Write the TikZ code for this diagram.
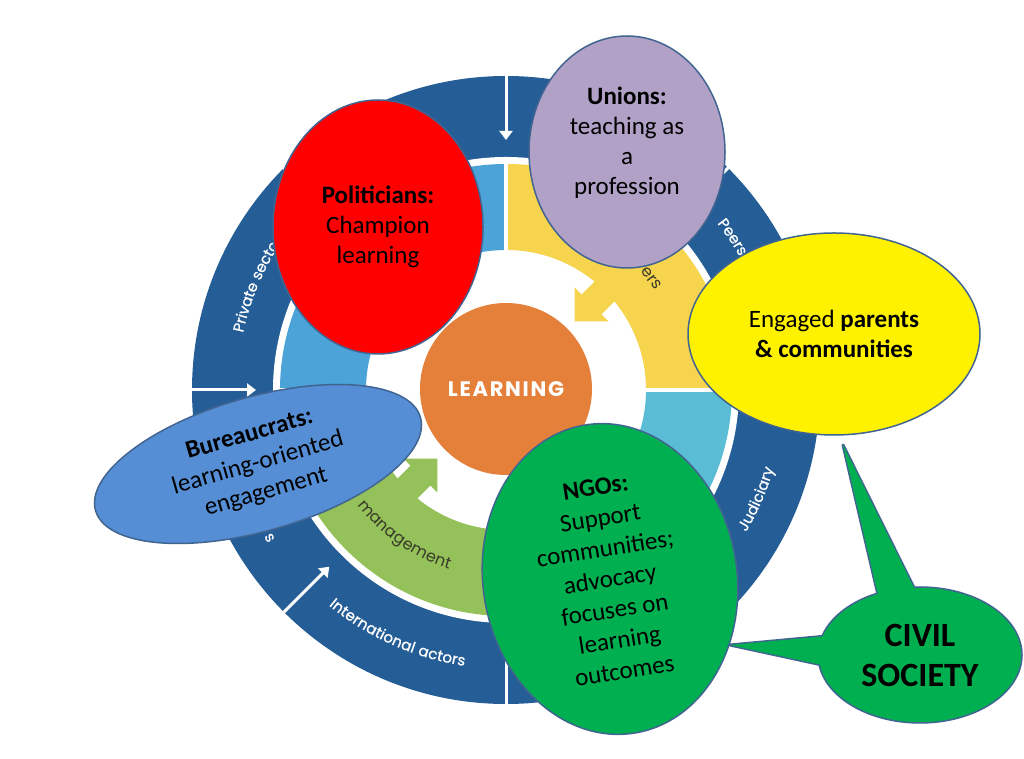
\documentclass[tikz,border=0pt]{standalone}
\usepackage{fontspec}
\setmainfont{Carlito}
\newfontfamily\ringfont[FakeBold=0.8,LetterSpace=3]{Poppins}
\newfontfamily\spacedfont[LetterSpace=10]{Poppins}
\newfontfamily\learnfont[LetterSpace=8]{Poppins}
\usetikzlibrary{shapes.geometric,decorations.text,arrows.meta,positioning}

\definecolor{ringblue}{RGB}{37,94,151}
\definecolor{segblue}{RGB}{75,163,216}
\definecolor{segyellow}{RGB}{246,212,78}
\definecolor{segcyan}{RGB}{91,188,214}
\definecolor{seggreen}{RGB}{148,193,90}
\definecolor{learnorange}{RGB}{229,128,58}
\definecolor{edgeblue}{RGB}{65,100,145}
\definecolor{unionlilac}{RGB}{177,161,199}
\definecolor{bureaublue}{RGB}{85,142,213}
\definecolor{ngogreen}{RGB}{0,176,80}
\definecolor{labeldark}{RGB}{55,58,40}

\begin{document}
\begin{tikzpicture}[x=1pt,y=1pt,
  bubble node/.style={ellipse,draw=edgeblue,line width=1.5pt,inner sep=0pt,align=center,font=\fontsize{25}{30}\selectfont},
  ring arrow/.style={white,line width=3pt,-{Triangle[width=13pt,length=9pt]}},
  ring label/.style={decorate,decoration={text along path,text align=center,raise=-5pt,
    text={|\ringfont\fontsize{15}{15}\selectfont\color{white}|#1}}},
  inner label/.style={decorate,decoration={text along path,text align=center,raise=-4pt,
    text={|\spacedfont\fontsize{16}{16}\selectfont\color{labeldark}|#1}}}]

\useasboundingbox (0,0) rectangle (1024,759);

% wheel
\begin{scope}[shift={(506,369)}]
  \fill[ringblue] (0,0) circle (314);
  \fill[white] (0,0) circle (233);
  \foreach \a/\col in {0/segyellow,90/segblue,180/seggreen,270/segcyan}
    \fill[\col] (\a:140) -- (\a:226) arc[start angle=\a,delta angle=90,radius=226]
      -- ({\a+90}:140) arc[start angle={\a+90},delta angle=-90,radius=140] -- cycle;
  \foreach \a in {0,90,180,270}
    \draw[white,line width=4pt] (\a:136) -- (\a:230);
  \foreach \a/\col in {45/segyellow,225/seggreen}
    \fill[\col,rotate=\a] (97,0) -- (121,24) -- (121,14) -- (145,14) -- (145,-14) -- (121,-14) -- (121,-24) -- cycle;
  \foreach \a in {0,45,...,315}
    \draw[ring arrow] (\a:317) -- (\a:250);

  \path[ring label={Private sector}] (187:274) arc[start angle=187,end angle=127,radius=274];
  \path[ring label={Peers}] (55:274) arc[start angle=55,end angle=13,radius=274];
  \path[ring label={Judiciary}] (-45:274) arc[start angle=-45,end angle=-2,radius=274];
  \path[ring label={International actors}] (221:274) arc[start angle=221,end angle=271,radius=274];
  \path[ring label={s}] (202:278) arc[start angle=202,end angle=222,radius=278];
  \path[inner label={management}] (205:184) arc[start angle=205,end angle=265,radius=184];
  \path[inner label={ers}] (47.5:183) arc[start angle=47.5,end angle=27.5,radius=183];

  \node[circle,fill=learnorange,minimum size=172pt,inner sep=0pt,text=white,
    font=\learnfont\bfseries\fontsize{21}{21}\selectfont] (learning) at (0,1) {LEARNING};
\end{scope}

% actors
\node[bubble node,fill=red,minimum width=210pt,minimum height=254pt] (politicians) at (378,532)
  {\textbf{Politicians:}\\Champion\\learning};
\node[bubble node,fill=unionlilac,minimum width=196pt,minimum height=232pt] (unions) at (627,607) {};
\node[align=center,font=\fontsize{25}{30}\selectfont] (unionstext) at (627,616)
  {\textbf{Unions:}\\teaching as\\a\\profession};
\node[bubble node,fill=yellow,minimum width=292pt,minimum height=202pt] (parents) at (834,425)
  {Engaged \textbf{parents}\\\textbf{\& communities}};
\node[bubble node,fill=bureaublue,minimum width=338pt,minimum height=134pt,rotate=16] (bureaucrats) at (258,295)
  {\textbf{Bureaucrats:}\\learning-oriented\\engagement};
\node[bubble node,fill=ngogreen,minimum width=254pt,minimum height=312pt,rotate=9,
  font=\fontsize{25}{31}\selectfont] (ngos) at (610,180)
  {\textbf{NGOs:}\\Support\\communities;\\advocacy\\focuses on\\learning\\outcomes};

% civil society callout
\coordinate (civiltipa) at (843,314);
\coordinate (civiltipb) at (730,114);
\filldraw[fill=ngogreen,draw=edgeblue,line width=3pt,line join=round] (civiltipa) -- (882,147) -- (923,153) -- cycle;
\filldraw[fill=ngogreen,draw=edgeblue,line width=3pt,line join=round] (civiltipb) -- (838,124) -- (836,91) -- cycle;
\node[bubble node,fill=ngogreen,minimum width=204pt,minimum height=136pt,
  font=\bfseries\fontsize{34}{40}\selectfont] (civil) at (920,104) {CIVIL\\SOCIETY};
\fill[ngogreen] (civiltipa) -- (882,147) -- (923,153) -- cycle;
\fill[ngogreen] (civiltipb) -- (838,124) -- (836,91) -- cycle;

\end{tikzpicture}
\end{document}
